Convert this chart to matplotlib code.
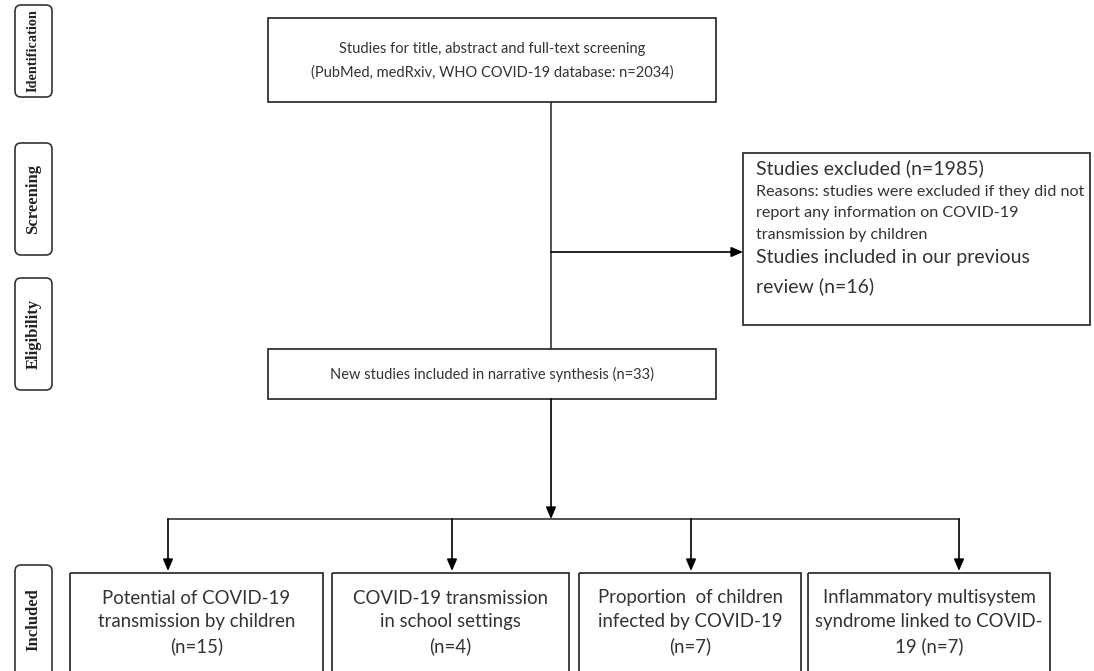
"""PRISMA-style flow chart: COVID-19 transmission by children review."""

import matplotlib.pyplot as plt
from matplotlib.patches import FancyBboxPatch, Rectangle

# ---------------------------------------------------------------------------
# Content
# ---------------------------------------------------------------------------
STAGES = ["Identification", "Screening", "Eligibility", "Included"]

N_SCREENED = 2034
N_EXCLUDED = 1985
N_PREVIOUS = 16
N_NEW = 33

TOP_TEXT = [
    "Studies for title, abstract and full-text screening",
    f"(PubMed, medRxiv, WHO COVID-19 database: n={N_SCREENED})",
]
EXCLUDED_HEAD = f"Studies excluded (n={N_EXCLUDED})"
EXCLUDED_REASON = [
    "Reasons: studies were excluded if they did not",
    "report any information on COVID-19",
    "transmission by children",
]
PREVIOUS_TEXT = ["Studies included in our previous", f"review (n={N_PREVIOUS})"]
MIDDLE_TEXT = f"New studies included in narrative synthesis (n={N_NEW})"

TOPICS = [
    ["Potential of COVID-19", "transmission by children"],
    ["COVID-19 transmission", "in school settings"],
    ["Proportion  of children", "infected by COVID-19"],
    ["Inflammatory multisystem", "syndrome linked to COVID-"],
]
TOPIC_COUNTS = [15, 4, 7, 7]
TOPIC_SUFFIX = ["", "", "", "19 "]

# ---------------------------------------------------------------------------
# Layout (pixels, origin top-left)
# ---------------------------------------------------------------------------
W, H = 1094, 671
INK = "#333333"
FONT = "Lato"

STAGE_BOXES = [(5, 97), (143, 255), (278, 390), (565, 690)]
STAGE_SIZES = [10.3, 12, 12, 12]
STAGE_X = (15, 52)

TOP_BOX = (268, 18, 716, 102)
MID_BOX = (268, 349, 716, 399)
EXC_BOX = (743, 153, 1090, 325)
TRUNK_X = 551
BRANCH_Y = 252
SPLIT_Y = 519
BOTTOM_TOP = 573
BOTTOM_BOXES = [(70, 323), (332, 569), (579, 801), (808, 1050)]
BOTTOM_ARROWS = [168, 452, 691, 959]


def box(ax, x0, y0, x1, y1):
    ax.add_patch(Rectangle((x0, y0), x1 - x0, y1 - y0, fill=False,
                           edgecolor=INK, linewidth=1.3))


def arrow(ax, start, tip):
    ax.annotate("", xy=tip, xytext=start,
                arrowprops=dict(arrowstyle="-|>,head_length=0.7,head_width=0.3",
                                color="black", lw=1.2, shrinkA=0, shrinkB=0))


fig = plt.figure(figsize=(W / 100, H / 100), dpi=100)
ax = fig.add_axes([0, 0, 1, 1])
ax.set_xlim(0, W)
ax.set_ylim(H, 0)
ax.axis("off")

# stage labels on the left
for label, (y0, y1), size in zip(STAGES, STAGE_BOXES, STAGE_SIZES):
    x0, x1 = STAGE_X
    ax.add_patch(FancyBboxPatch((x0, y0), x1 - x0, y1 - y0,
                                boxstyle="round,pad=0,rounding_size=6",
                                fill=False, edgecolor=INK, linewidth=1.2))
    yc = (y0 + y1) / 2 if y1 < H else 620
    ax.text((x0 + x1) / 2, yc, label, rotation=90, ha="center", va="center",
            family="Liberation Serif", fontweight="bold", fontsize=size,
            color="#222222")

# top box
box(ax, *TOP_BOX)
cx = (TOP_BOX[0] + TOP_BOX[2]) / 2
ax.text(cx, 49, TOP_TEXT[0], ha="center", va="center", family=FONT,
        fontsize=10.5, color=INK)
ax.text(cx, 73, TOP_TEXT[1], ha="center", va="center", family=FONT,
        fontsize=10.5, color=INK)

# trunk and exclusion branch
ax.plot([TRUNK_X, TRUNK_X], [TOP_BOX[3], MID_BOX[1]], color=INK, lw=1.2)
arrow(ax, (TRUNK_X, BRANCH_Y), (EXC_BOX[0], BRANCH_Y))

# excluded box
box(ax, *EXC_BOX)
tx = EXC_BOX[0] + 13
ax.text(tx, 168, EXCLUDED_HEAD, ha="left", va="center", family=FONT,
        fontsize=14, color=INK)
for i, line in enumerate(EXCLUDED_REASON):
    ax.text(tx, 192 + 21.5 * i, line, ha="left", va="center", family=FONT,
            fontsize=11.6, color=INK)
ax.text(tx, 258, PREVIOUS_TEXT[0], ha="left", va="center", family=FONT,
        fontsize=14, color=INK)
ax.text(tx, 286, PREVIOUS_TEXT[1], ha="left", va="center", family=FONT,
        fontsize=14, color=INK)

# middle box
box(ax, *MID_BOX)
ax.text((MID_BOX[0] + MID_BOX[2]) / 2, 374, MIDDLE_TEXT, ha="center",
        va="center", family=FONT, fontsize=10.5, color=INK)

# split to topic boxes
arrow(ax, (TRUNK_X, MID_BOX[3]), (TRUNK_X, SPLIT_Y))
ax.plot([BOTTOM_ARROWS[0], BOTTOM_ARROWS[-1]], [SPLIT_Y, SPLIT_Y],
        color=INK, lw=1.2)
for xa in BOTTOM_ARROWS:
    arrow(ax, (xa, SPLIT_Y), (xa, BOTTOM_TOP - 2))

for (x0, x1), lines, n, suf in zip(BOTTOM_BOXES, TOPICS, TOPIC_COUNTS,
                                   TOPIC_SUFFIX):
    box(ax, x0, BOTTOM_TOP, x1, H + 20)
    xc = (x0 + x1) / 2
    for i, line in enumerate(lines + [f"{suf}(n={n})"]):
        ax.text(xc, 598 + 24 * i, line, ha="center", va="center",
                family=FONT, fontsize=13.4, color=INK)

fig.savefig("out.png", dpi=100)
